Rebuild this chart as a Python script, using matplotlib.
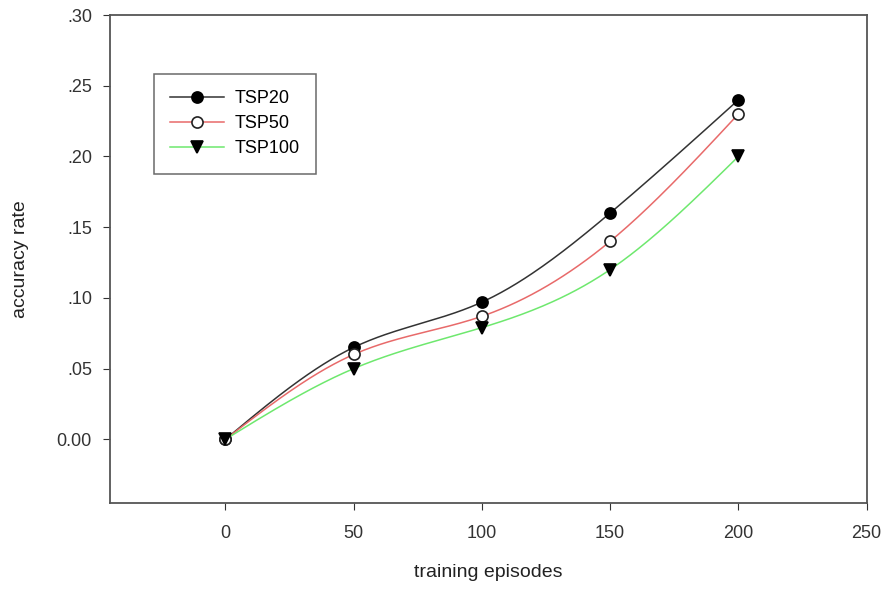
import numpy as np
import matplotlib
matplotlib.use("Agg")
import matplotlib.pyplot as plt

plt.rcParams['font.family'] = ['Liberation Sans', 'DejaVu Sans']

episodes = [0, 50, 100, 150, 200]
tsp20 = [0.0, 0.065, 0.097, 0.16, 0.24]
tsp50 = [0.0, 0.060, 0.087, 0.14, 0.23]
tsp100 = [0.0, 0.050, 0.079, 0.12, 0.20]

y_ticks = [0.0, 0.05, 0.10, 0.15, 0.20, 0.25, 0.30]
y_ticklabels = ['0.00', '.05', '.10', '.15', '.20', '.25', '.30']
x_ticks = [0, 50, 100, 150, 200, 250]


def natural_spline(x, y, n=200):
    # plain natural cubic spline, just for the smooth connecting line
    x = np.asarray(x, float)
    y = np.asarray(y, float)
    k = len(x)
    h = np.diff(x)
    A = np.zeros((k, k))
    b = np.zeros(k)
    A[0, 0] = A[-1, -1] = 1
    for i in range(1, k - 1):
        A[i, i - 1] = h[i - 1]
        A[i, i] = 2 * (h[i - 1] + h[i])
        A[i, i + 1] = h[i]
        b[i] = 6 * ((y[i + 1] - y[i]) / h[i] - (y[i] - y[i - 1]) / h[i - 1])
    m = np.linalg.solve(A, b)
    xs = np.linspace(x[0], x[-1], n)
    idx = np.clip(np.searchsorted(x, xs) - 1, 0, k - 2)
    x0, x1 = x[idx], x[idx + 1]
    hh = x1 - x0
    t0, t1 = x1 - xs, xs - x0
    ys = (m[idx] * t0 ** 3 / (6 * hh) + m[idx + 1] * t1 ** 3 / (6 * hh)
          + (y[idx] / hh - m[idx] * hh / 6) * t0
          + (y[idx + 1] / hh - m[idx + 1] * hh / 6) * t1)
    return xs, ys


fig = plt.figure(figsize=(8.87, 5.90), dpi=100)
ax = fig.add_axes([0.124, 0.1475, 0.853, 0.827])

series = [
    (tsp20, 'TSP20', '#333333', dict(marker='o', mfc='black', mec='black')),
    (tsp50, 'TSP50', '#e86a6a', dict(marker='o', mfc='white', mec='#222222')),
    (tsp100, 'TSP100', '#6ee86e', dict(marker='v', mfc='black', mec='black')),
]

handles = []
for vals, name, col, mk in series:
    xs, ys = natural_spline(episodes, vals)
    ax.plot(xs, ys, color=col, lw=1.1, zorder=2)
    ax.plot(episodes, vals, ls='none', ms=8, mew=1.2, zorder=3, **mk)
    h, = ax.plot([], [], color=col, lw=1.1, ms=8, mew=1.2, label=name, **mk)
    handles.append(h)

ax.set_xlim(-45, 250)
ax.set_ylim(-0.045, 0.30)
ax.set_xticks(x_ticks)
ax.set_yticks(y_ticks)
ax.set_yticklabels(y_ticklabels)
ax.tick_params(direction='out', length=5, labelsize=13, colors='#333333',
               top=False, right=False)
ax.tick_params(axis='x', pad=11)
ax.tick_params(axis='y', pad=8)
for s in ax.spines.values():
    s.set_color('#555555')
    s.set_linewidth(1.3)

ax.set_xlabel('training episodes', fontsize=14, color='#222222', labelpad=16)
ax.set_ylabel('accuracy rate', fontsize=14, color='#222222', labelpad=20)

leg = ax.legend(handles=handles, loc='upper left', bbox_to_anchor=(0.046, 0.898),
                frameon=True, fancybox=False, fontsize=13, handlelength=3.0,
                borderpad=0.9, labelspacing=0.45, handletextpad=0.6)
leg.get_frame().set_edgecolor('#444444')
leg.get_frame().set_linewidth(1.1)

fig.savefig('out.png', dpi=100)
